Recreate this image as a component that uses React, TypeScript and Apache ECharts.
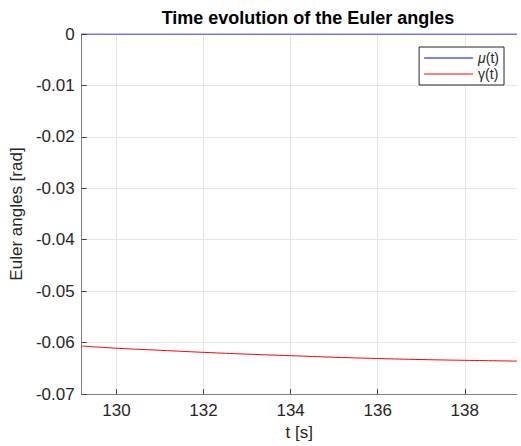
import React, { useEffect, useRef } from "react";
import * as echarts from "echarts";

const tValues = [129.2, 130, 131, 132, 133, 134, 135, 136, 137, 138, 139.2];
const muValues = [0, 0, 0, 0, 0, 0, 0, 0, 0, 0, 0];
const gammaValues = [-0.06066, -0.0611, -0.0615, -0.0619, -0.06225, -0.06255, -0.06285, -0.0631, -0.0633, -0.06345, -0.0636];
const xTicks = [130, 132, 134, 136, 138];

const FONT = "'Liberation Sans', Arial, Helvetica, sans-serif";

export default function App() {
  const ref = useRef<HTMLDivElement>(null);
  useEffect(() => {
    if (!ref.current) return;
    const chart = echarts.init(ref.current, undefined, { renderer: "svg" });
    chart.setOption({
      animation: false,
      backgroundColor: "#ffffff",
      textStyle: { fontFamily: FONT },
      title: {
        text: "Time evolution of the Euler angles",
        left: 308,
        textAlign: "center",
        top: 9,
        padding: 0,
        textStyle: { fontFamily: FONT, fontSize: 18, fontWeight: "bold", color: "#000" },
      },
      grid: { left: 81, right: 4, top: 34, bottom: 52, containLabel: false },
      legend: {
        orient: "vertical",
        right: 17,
        top: 47,
        backgroundColor: "#fff",
        borderColor: "#262626",
        borderWidth: 1,
        borderRadius: 0,
        padding: [4, 5, 4, 5],
        itemGap: 2,
        itemWidth: 49,
        itemHeight: 1,
        icon: "rect",
        textStyle: {
          fontFamily: FONT,
          fontSize: 14,
          color: "#262626",
          padding: [0, 0, 0, 0],
          rich: { i: { fontStyle: "italic", fontFamily: FONT, fontSize: 14, color: "#262626" } },
        },
        formatter: (name: string) => (name === "mu" ? "{i|μ}(t)" : "γ(t)"),
        data: ["mu", "gamma"],
      },
      xAxis: {
        type: "value",
        min: 129.2,
        max: 139.2,
        name: "t [s]",
        nameLocation: "middle",
        nameGap: 30,
        nameTextStyle: { fontFamily: FONT, fontSize: 17, color: "#262626" },
        axisLine: { show: true, onZero: false, lineStyle: { color: "#808080", width: 1 } },
        axisTick: { show: true, inside: true, length: 5, customValues: xTicks, lineStyle: { color: "#404040" } },
        axisLabel: { customValues: xTicks, margin: 8, fontFamily: FONT, fontSize: 17, color: "#262626" },
        splitLine: { show: true, lineStyle: { color: "#e5e5e5", width: 1 } },
      },
      yAxis: {
        type: "value",
        min: -0.07,
        max: 0,
        interval: 0.01,
        name: "Euler angles [rad]",
        nameLocation: "middle",
        nameGap: 48,
        nameTextStyle: { fontFamily: FONT, fontSize: 17, color: "#262626" },
        axisLine: { show: true, lineStyle: { color: "#808080", width: 1 } },
        axisTick: { show: true, inside: true, length: 5, lineStyle: { color: "#404040" } },
        axisLabel: {
          margin: 7,
          fontFamily: FONT,
          fontSize: 17,
          color: "#262626",
          formatter: (v: number) => (Math.abs(v) < 1e-9 ? "0" : v.toFixed(2)),
        },
        splitLine: { show: true, lineStyle: { color: "#e5e5e5", width: 1 } },
      },
      series: [
        {
          name: "mu",
          type: "line",
          data: tValues.map((t, i) => [t, muValues[i]]),
          showSymbol: false,
          symbol: "none",
          itemStyle: { color: "#0000ff" },
          lineStyle: { color: "#0000ff", width: 1 },
          z: 5,
        },
        {
          name: "gamma",
          type: "line",
          data: tValues.map((t, i) => [t, gammaValues[i]]),
          showSymbol: false,
          symbol: "none",
          smooth: true,
          itemStyle: { color: "#ff0000" },
          lineStyle: { color: "#ff0000", width: 1 },
          z: 5,
        },
      ],
    });
    return () => chart.dispose();
  }, []);
  return <div ref={ref} style={{ width: 521, height: 446, position: "absolute", left: 0, top: 0 }} />;
}
